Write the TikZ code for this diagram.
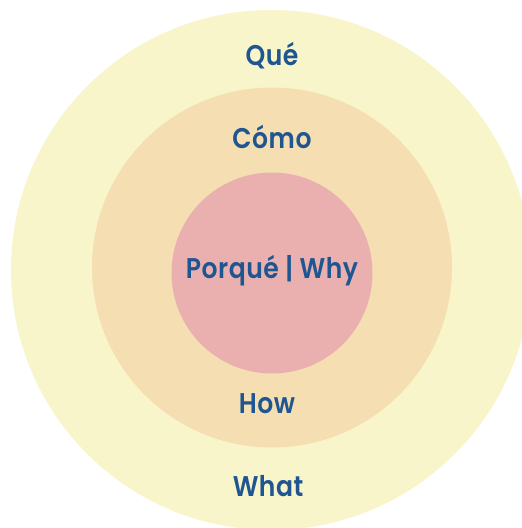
\documentclass[tikz,border=0pt]{standalone}
\usepackage{fontspec}
\newfontfamily\lbl{Poppins SemiBold}[LetterSpace=2]
\definecolor{outerc}{HTML}{F8F5CB}
\definecolor{midc}{HTML}{F5DFB2}
\definecolor{innerc}{HTML}{EAB0B0}
\definecolor{txtc}{HTML}{1F5590}
\tikzset{lab/.style={anchor=base,text=txtc,inner sep=0pt,font=\lbl\fontsize{28.5}{30}\selectfont,xscale=0.88,transform shape}}
\begin{document}
\begin{tikzpicture}[x=1pt,y=-1pt]
\useasboundingbox (0,0) rectangle (522,528);
\fill[white] (0,0) rectangle (522,528);
\begin{scope}
\clip (0,0) rectangle (522,528);
\fill[outerc] (271,270) circle (260);
\fill[midc] (272,267.5) circle (180);
\fill[innerc] (272,273) circle (100.5);
\end{scope}
\node[lab] (que) at (272,65) {Qué};
\node[lab] (como) at (272,148) {Cómo};
\node[lab] (why) at (272,278) {Porqué | Why};
\node[lab] (how) at (267,413) {How};
\node[lab] (what) at (268,496) {What};
\end{tikzpicture}
\end{document}
